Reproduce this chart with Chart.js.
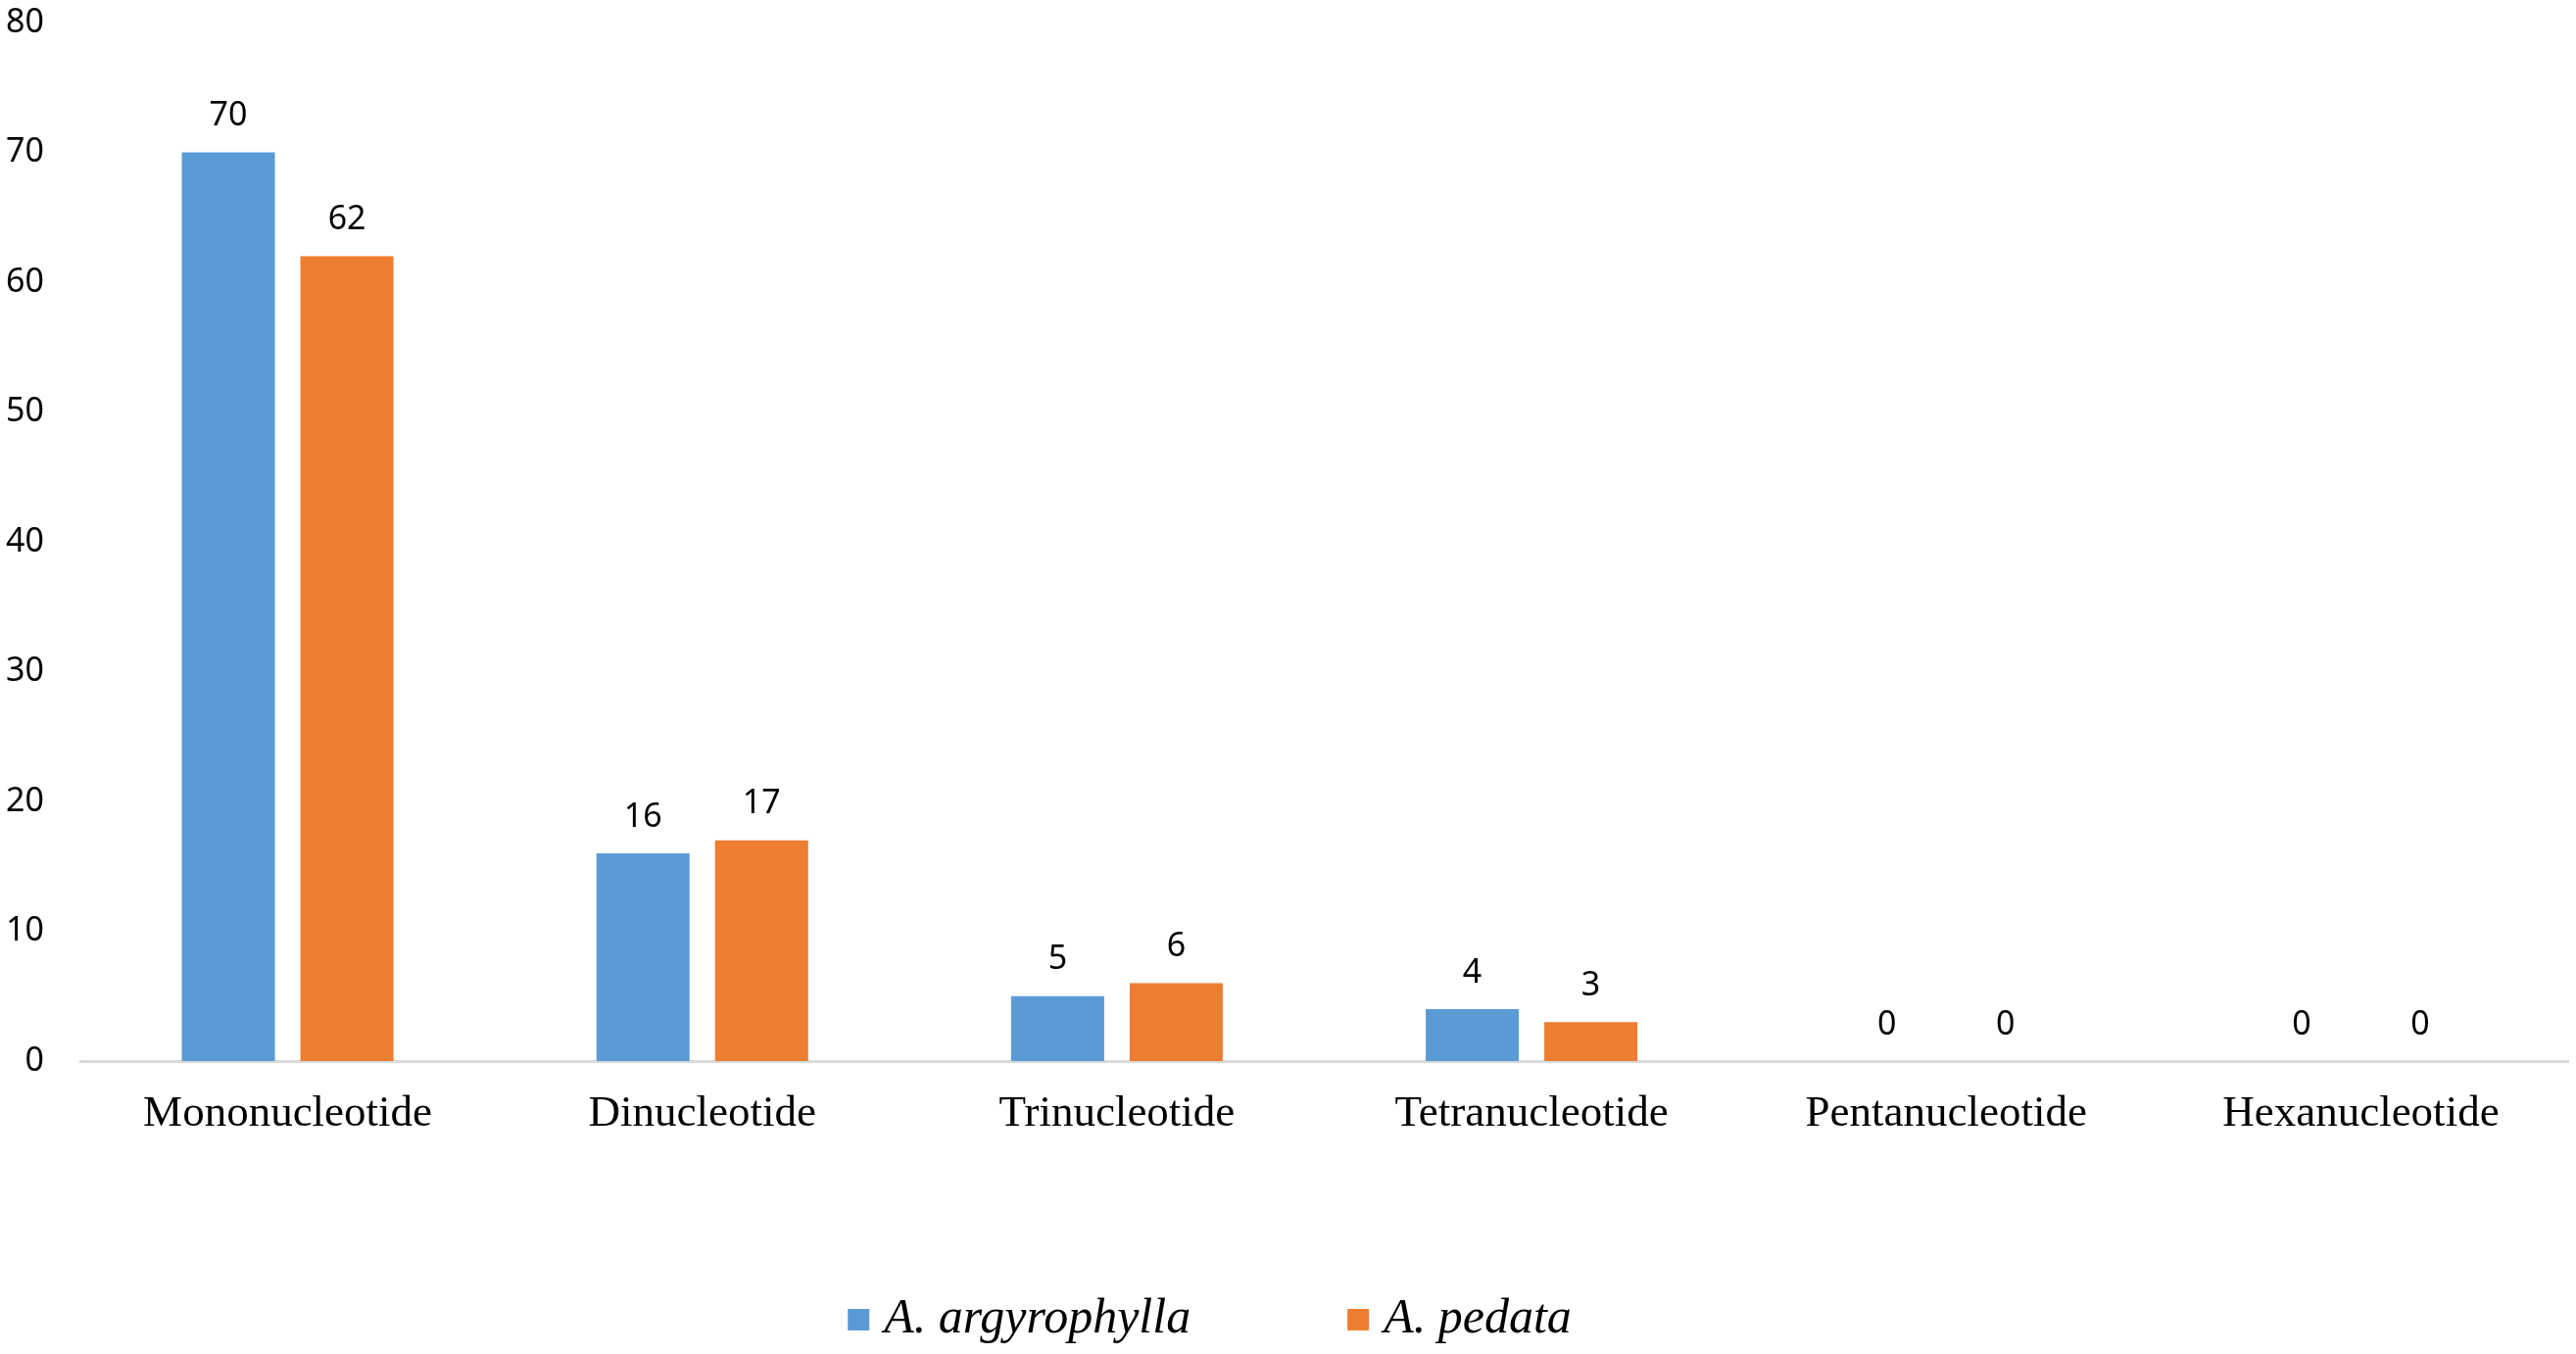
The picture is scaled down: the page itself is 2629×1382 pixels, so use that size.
<!DOCTYPE html>
<html>
<head>
<meta charset="utf-8">
<script src="https://cdn.jsdelivr.net/npm/chart.js@4"></script>
<style>
  html, body { margin: 0; padding: 0; background: #fff; }
  #wrap { width: 2629px; height: 1382px; position: relative; }
</style>
</head>
<body>
<div id="wrap"><canvas id="chartBar"></canvas></div>
<script>
// data
const categories = ["Mononucleotide", "Dinucleotide", "Trinucleotide", "Tetranucleotide", "Pentanucleotide", "Hexanucleotide"];
const seriesNames = ["A. argyrophylla", "A. pedata"];
const argyrophylla = [70, 16, 5, 4, 0, 0];
const pedata = [62, 17, 6, 3, 0, 0];
const yTicks = [0, 10, 20, 30, 40, 50, 60, 70, 80];

const colors = ["#5B9BD5", "#ED7D31"];

// value labels above every bar
const barValues = {
  id: "barValues",
  afterDatasetsDraw(chart) {
    const ctx = chart.ctx;
    ctx.save();
    ctx.font = "34px 'Noto Sans'";
    ctx.fillStyle = "#000";
    ctx.textAlign = "center";
    ctx.textBaseline = "middle";
    chart.data.datasets.forEach((ds, i) => {
      chart.getDatasetMeta(i).data.forEach((bar, j) => {
        ctx.fillText(ds.data[j], bar.x, bar.y - 37);
      });
    });
    ctx.restore();
  }
};

// legend in the source sits a bit left of centre
const legendShift = {
  id: "legendShift",
  afterLayout(chart) {
    chart.legend.left -= 71;
    chart.legend.right -= 71;
  }
};

const data = {
  labels: categories,
  datasets: [
    { label: seriesNames[0], data: argyrophylla, backgroundColor: colors[0] },
    { label: seriesNames[1], data: pedata, backgroundColor: colors[1] }
  ]
};

new Chart(document.getElementById("chartBar"), {
  type: "bar",
  data: data,
  plugins: [barValues, legendShift],
  options: {
    responsive: true,
    maintainAspectRatio: false,
    animation: false,
    devicePixelRatio: 1,
    categoryPercentage: 0.572,
    barPercentage: 0.785,
    layout: { padding: { top: 0, right: 8, bottom: 0, left: 0 } },
    plugins: {
      tooltip: { enabled: false },
      legend: {
        position: "bottom",
        labels: {
          usePointStyle: true,
          pointStyle: "rect",
          boxWidth: 2,
          boxHeight: 22,
          padding: 170,
          color: "#000",
          font: { family: "'Liberation Serif'", size: 50, style: "italic" }
        }
      }
    },
    scales: {
      x: {
        grid: { display: false, drawTicks: false },
        border: { display: true, color: "#D9D9D9", width: 3 },
        ticks: {
          padding: 27,
          color: "#000",
          font: { family: "'Liberation Serif'", size: 45 }
        },
        afterFit(scale) { scale.height = 69; }
      },
      y: {
        min: 0,
        max: 80,
        afterBuildTicks(scale) { scale.ticks = yTicks.map(v => ({ value: v })); },
        grid: { display: false, drawTicks: false },
        border: { display: false },
        ticks: {
          padding: 37,
          color: "#000",
          font: { family: "'Noto Sans'", size: 34 }
        },
        afterFit(scale) {
          scale.width = 82;
          scale.paddingTop = 23;
        }
      }
    }
  }
});
</script>
</body>
</html>
